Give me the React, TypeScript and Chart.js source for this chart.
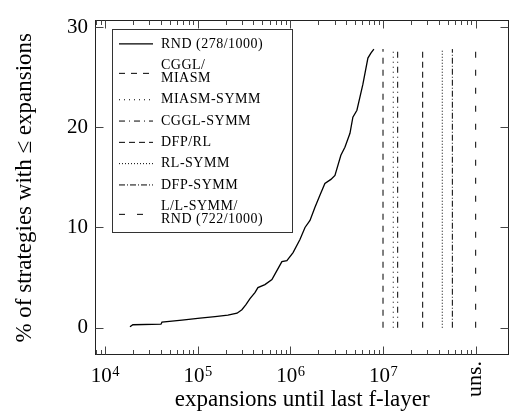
import { useEffect, useRef } from 'react';
import { Chart, registerables } from 'chart.js';

Chart.register(...registerables);

// ---- data ----
const RND_LABEL = 'RND (278/1000)';
const RND_X = [1.86e4, 2.0e4, 4.02e4, 4.12e4, 5.28e4, 6.78e4, 1.06e5, 1.54e5, 2.12e5, 2.66e5, 3.0e5, 3.32e5, 3.67e5, 4.15e5, 4.47e5, 5.32e5, 6.33e5, 7.16e5, 8.11e5, 9.18e5, 1.07e6, 1.27e6, 1.44e6, 1.63e6, 1.84e6, 2.08e6, 2.36e6, 2.74e6, 3.03e6, 3.51e6, 3.88e6, 4.4e6, 4.73e6, 5.23e6, 6.07e6, 6.87e6, 7.4e6, 7.97e6];
const RND_Y = [0.1, 0.3, 0.35, 0.55, 0.65, 0.75, 0.95, 1.1, 1.25, 1.45, 1.8, 2.3, 2.9, 3.5, 4.0, 4.3, 4.8, 5.7, 6.6, 6.7, 7.5, 8.8, 10.0, 10.7, 12.0, 13.2, 14.4, 14.8, 15.2, 17.2, 18.0, 19.4, 21.0, 21.7, 24.3, 26.9, 27.4, 27.8];

const STRATEGY_LABELS = ['CGGL/\nMIASM', 'MIASM-SYMM', 'CGGL-SYMM', 'DFP/RL', 'RL-SYMM', 'DFP-SYMM', 'L/L-SYMM/\nRND (722/1000)'];
const STRATEGY_X = [1.0e7, 1.29e7, 1.44e7, 2.68e7, 4.36e7, 5.6e7, 1.0e8];
const STRATEGY_BOTTOM = 0;
const STRATEGY_TOP = 27.8;

const Y_TICKS = [0, 10, 20, 30];
const X_MAJOR = [1e4, 1e5, 1e6, 1e7, 1e8];
const X_MAJOR_LABELS = ['4', '5', '6', '7', 'uns.'];
const X_MIN = 8.0e3;
const X_MAX = 2.26e8;
const Y_MIN = -2.72;
const Y_MAX = 30.64;

// ---- styles ----
const STRATEGY_DASHES = [[6, 6], [1, 4], [6, 4, 1, 4], [6, 4], [1, 2], [6, 2, 1, 2], [6, 12]];
const FONT = '"Liberation Serif", "DejaVu Serif", serif';

const framePlugin = {
  id: 'pgfFrame',
  afterDatasetsDraw(chart: any) {
    const { ctx, chartArea: a, scales } = chart;
    const x = scales.x;
    const y = scales.y;
    const L = Math.round(a.left) - 0.5;
    const R = Math.round(a.right) - 0.5;
    const T = Math.round(a.top) - 0.5;
    const B = Math.round(a.bottom) - 0.5;
    ctx.save();
    ctx.strokeStyle = '#222';
    ctx.lineWidth = 1;
    ctx.setLineDash([]);
    ctx.strokeRect(L, T, R - L, B - T);

    // x ticks (major + minor), bottom and top
    ctx.strokeStyle = '#444';
    for (let e = 3; e <= 8; e++) {
      for (let m = 1; m <= 9; m++) {
        const v = m * Math.pow(10, e);
        if (v < X_MIN * 0.999 || v > X_MAJOR[X_MAJOR.length - 1] * 1.0001) continue;
        const px = Math.round(x.getPixelForValue(v)) + 0.5;
        if (px <= L + 0.6) continue;
        const len = m === 1 ? 8 : 4.5;
        ctx.beginPath();
        ctx.moveTo(px, B);
        ctx.lineTo(px, B - len);
        ctx.moveTo(px, T);
        ctx.lineTo(px, T + len);
        ctx.stroke();
      }
    }
    // y ticks, left and right
    for (const v of Y_TICKS) {
      const py = Math.round(y.getPixelForValue(v)) + 0.5;
      ctx.beginPath();
      ctx.moveTo(L, py);
      ctx.lineTo(L + 8, py);
      ctx.moveTo(R, py);
      ctx.lineTo(R - 8, py);
      ctx.stroke();
    }

    // x tick labels
    ctx.fillStyle = '#000';
    X_MAJOR.forEach((v, i) => {
      const px = x.getPixelForValue(v);
      const lab = X_MAJOR_LABELS[i];
      if (lab === 'uns.') {
        ctx.save();
        ctx.translate(px + 5.5, 361);
        ctx.rotate(-Math.PI / 2);
        ctx.font = `22px ${FONT}`;
        ctx.textAlign = 'right';
        ctx.textBaseline = 'alphabetic';
        ctx.fillText(lab, 0, 0);
        ctx.restore();
      } else {
        ctx.font = `21px ${FONT}`;
        const wBase = ctx.measureText('10').width;
        ctx.font = `14.5px ${FONT}`;
        const wExp = ctx.measureText(lab).width;
        const start = px - (wBase + wExp) / 2;
        ctx.textAlign = 'left';
        ctx.textBaseline = 'alphabetic';
        ctx.font = `21px ${FONT}`;
        ctx.fillText('10', start, 382);
        ctx.font = `14.5px ${FONT}`;
        ctx.fillText(lab, start + wBase + 0.5, 376);
      }
    });

    // legend
    const box = { left: 112.5, top: 29.5, right: 292.5, bottom: 232.5 };
    ctx.fillStyle = '#fff';
    ctx.fillRect(box.left, box.top, box.right - box.left, box.bottom - box.top);
    ctx.strokeStyle = '#333';
    ctx.strokeRect(box.left, box.top, box.right - box.left, box.bottom - box.top);
    let cy = box.top + 3.8;
    ctx.fillStyle = '#000';
    ctx.font = `14px ${FONT}`;
    (ctx as any).letterSpacing = '0.5px';
    ctx.textAlign = 'left';
    ctx.textBaseline = 'middle';
    chart.data.datasets.forEach((ds: any) => {
      const lines = String(ds.label).split('\n');
      const h = lines.length === 1 ? 21.3 : 34.5;
      const mid = cy + h / 2;
      ctx.save();
      ctx.strokeStyle = '#000';
      ctx.lineWidth = ds.borderWidth;
      ctx.setLineDash(ds.borderDash || []);
      ctx.beginPath();
      const sy = lines.length === 1 ? mid : mid + 1.5;
      ctx.moveTo(119, sy);
      ctx.lineTo(153, sy);
      ctx.stroke();
      ctx.restore();
      lines.forEach((t, k) => {
        const ty = mid + (k - (lines.length - 1) / 2) * 13.6;
        ctx.fillText(t, 161, ty);
      });
      cy += h;
    });
    ctx.restore();
  },
};

export default function App() {
  const ref = useRef<HTMLCanvasElement | null>(null);
  useEffect(() => {
    if (!ref.current) return;
    const datasets: any[] = [
      {
        label: RND_LABEL,
        data: RND_X.map((v, i) => ({ x: v, y: RND_Y[i] })),
        borderColor: '#000',
        borderWidth: 1.3,
        borderDash: [],
        pointRadius: 0,
        tension: 0,
        fill: false,
      },
      ...STRATEGY_LABELS.map((lab, i) => ({
        label: lab,
        data: [
          { x: STRATEGY_X[i], y: STRATEGY_BOTTOM },
          { x: STRATEGY_X[i], y: STRATEGY_TOP },
        ],
        borderColor: '#000',
        borderWidth: 1,
        borderDash: STRATEGY_DASHES[i],
        pointRadius: 0,
        tension: 0,
        fill: false,
      })),
    ];
    const chart = new Chart(ref.current, {
      type: 'line',
      data: { datasets },
      options: {
        responsive: false,
        animation: false,
        layout: { padding: { left: 0, right: 1.5, top: 12, bottom: 0 } },
        plugins: { legend: { display: false }, tooltip: { enabled: false } },
        elements: { point: { radius: 0 } },
        scales: {
          x: {
            type: 'logarithmic',
            min: X_MIN,
            max: X_MAX,
            grid: { display: false, drawTicks: false },
            border: { display: false },
            ticks: { display: false },
            title: {
              display: true,
              text: 'expansions until last f-layer',
              color: '#000',
              font: { family: FONT, size: 23 },
              padding: { top: 0, bottom: 2.4 },
            },
            afterFit: (s: any) => {
              s.height = 61;
            },
          },
          y: {
            type: 'linear',
            min: Y_MIN,
            max: Y_MAX,
            afterBuildTicks: (s: any) => {
              s.ticks = Y_TICKS.map((v) => ({ value: v }));
            },
            grid: { display: false, drawTicks: false },
            border: { display: false },
            ticks: { color: '#000', font: { family: FONT, size: 21 }, padding: 8 },
            title: {
              display: true,
              text: '% of strategies with ≤ expansions',
              color: '#000',
              font: { family: FONT, size: 23 },
              padding: { top: 11.5, bottom: 0 },
            },
            afterFit: (s: any) => {
              s.width = 96;
            },
          },
        },
      },
      plugins: [framePlugin],
    } as any);
    return () => chart.destroy();
  }, []);
  return (
    <div style={{ position: 'fixed', left: 0, top: 0, width: 510, height: 416, background: '#fff' }}>
      <canvas ref={ref} width={510} height={416} style={{ width: 510, height: 416, display: 'block' }} />
    </div>
  );
}
